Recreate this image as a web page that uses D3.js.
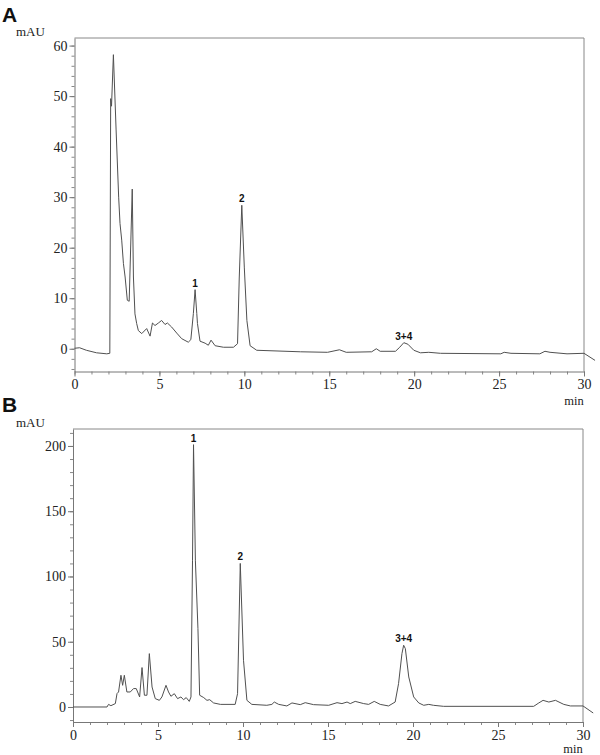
<!DOCTYPE html>
<html>
<head>
<meta charset="utf-8">
<script src="https://cdn.jsdelivr.net/npm/d3@7"></script>
<style>
  body { margin: 0; background: #fff; }
  svg { display: block; }
  .serif { font-family: "Liberation Serif", "DejaVu Serif", serif; }
  .sans { font-family: "Liberation Sans", Arial, sans-serif; }
</style>
</head>
<body>
<div id="chart"></div>
<script>
// Panel A chromatogram (min, mAU)
const timeA = [0, 0.3, 0.7, 1.3, 1.9, 2.08, 2.13, 2.18, 2.29, 2.45, 2.6, 2.68, 2.78, 2.88, 2.98, 3.11, 3.22, 3.4, 3.47, 3.56,
  3.66, 3.76, 3.96, 4.25, 4.45, 4.59, 4.74, 4.94, 5.13, 5.33, 5.47, 5.72, 6.02, 6.31, 6.7, 6.85, 7.0, 7.1, 7.2, 7.24,
  7.39, 7.69, 7.88, 8.04, 8.28, 8.77, 9.36, 9.6, 9.7, 9.85, 10.0, 10.15, 10.34, 10.73, 13.3, 14.9, 15.6, 16.0, 17.5, 17.77,
  18.0, 18.9, 19.15, 19.39, 19.63, 19.98, 20.37, 20.86, 21.55, 25.1, 25.3, 25.7, 27.4, 27.7, 28.0, 29.0, 30.0, 30.65];
const valueA = [0.1, 0.2, -0.3, -0.8, -1.0, -0.9, 49.5, 48.0, 58.2, 43.3, 30.0, 24.8, 21.5, 16.9, 14.2, 9.6, 9.4, 31.6, 14.2, 6.9,
  5.0, 3.6, 3.0, 4.0, 2.5, 5.1, 4.6, 5.1, 5.6, 4.8, 5.1, 4.3, 3.1, 2.0, 1.3, 1.8, 7.0, 11.7, 7.0, 5.0,
  1.5, 1.1, 0.7, 1.7, 0.6, 0.3, 0.3, 1.0, 14.0, 28.4, 16.0, 5.6, 0.6, -0.3, -0.6, -0.7, -0.2, -0.7, -0.6, 0.0,
  -0.5, -0.5, 0.3, 1.2, 0.9, -0.3, -0.8, -0.7, -0.9, -1.0, -0.7, -0.9, -1.0, -0.5, -0.7, -1.0, -0.9, -2.3];

// Panel B chromatogram (min, mAU)
const timeB = [0, 2.0, 2.09, 2.23, 2.49, 2.59, 2.68, 2.82, 2.92, 3.02, 3.17, 3.37, 3.56, 3.72, 3.92, 4.06, 4.2, 4.35, 4.49, 4.65,
  4.84, 5.08, 5.23, 5.47, 5.62, 5.76, 5.96, 6.15, 6.35, 6.5, 6.66, 6.84, 6.94, 7.03, 7.09, 7.2, 7.35, 7.45, 7.69, 7.88,
  8.04, 8.27, 8.67, 9.54, 9.68, 9.84, 10.03, 10.23, 10.52, 11.4, 11.7, 11.84, 12.1, 12.58, 12.88, 13.37, 13.66, 14.15, 15.04, 15.53,
  15.82, 16.12, 16.31, 16.6, 17.1, 17.39, 17.72, 18.07, 18.56, 18.95, 19.15, 19.35, 19.45, 19.55, 19.75, 20.04, 20.34, 20.63, 20.93, 21.2,
  21.8, 27.1, 27.4, 27.65, 27.99, 28.38, 28.87, 29.26, 30.0, 30.6];
const valueB = [0, 0, 2, 1, 2.6, 10.3, 11.5, 24.3, 16.6, 24.3, 11.5, 11.5, 14.1, 14.1, 7.7, 30.2, 9.0, 9.0, 40.9, 15.3,
  6.4, 5.1, 7.7, 16.6, 11.5, 8.2, 10.2, 6.4, 7.7, 5.6, 7.2, 4.3, 7.7, 112, 201, 112, 60, 9, 7.2, 5.1,
  5.6, 3.1, 2.0, 2.0, 10.2, 110, 35.8, 5.1, 2.0, 1.3, 2.0, 3.8, 2.0, 0.8, 3.1, 1.8, 3.3, 1.8, 1.3, 3.3,
  2.6, 3.8, 2.6, 4.3, 2.6, 2.0, 4.3, 2.0, 0.8, 3.8, 17.9, 40.9, 47.3, 44.7, 23, 7.7, 3.1, 1.3, 2.0, 1.3,
  0.5, 0.5, 3.1, 5.1, 3.8, 5.1, 2.0, 0.8, 0.8, -4.6];

// peak labels
const peakNames = ["1", "2", "3+4"];
const peakTimeA = [7.1, 9.85, 19.39];
const peakValueA = [11.7, 28.4, 1.2];
const peakTimeB = [7.09, 9.84, 19.45];
const peakValueB = [201, 110, 47.3];

const xMajor = [0, 5, 10, 15, 20, 25, 30];
const yMajorA = [0, 10, 20, 30, 40, 50, 60];
const yMajorB = [0, 50, 100, 150, 200];

const W = 600, H = 755;
const svg = d3.select("#chart").append("svg").attr("width", W).attr("height", H);

const ink = "#505050";

function drawPanel(p) {
  const x = d3.scaleLinear().domain([0, 30]).range([p.left, p.right]);
  const y = d3.scaleLinear().domain(p.yDomain).range([p.bottom, p.top]);
  const g = svg.append("g");

  // panel letter + unit
  g.append("text").attr("class", "sans").attr("x", 2).attr("y", p.letterY)
    .style("font-weight", "bold").style("font-size", "21px")
    .attr("fill", "#111").text(p.letter);
  g.append("text").attr("class", "serif").attr("x", 16).attr("y", p.unitY)
    .style("font-size", "13px").attr("fill", "#222").text("mAU");

  // frame top + right
  g.append("path")
    .attr("d", `M${p.left},${p.top}H${p.right}V${p.bottom}`)
    .attr("fill", "none").attr("stroke", "#888").attr("stroke-width", 1);

  // y axis
  g.append("g").attr("transform", `translate(${p.left},0)`)
    .call(d3.axisLeft(y).tickValues(p.yMinor).tickSize(3).tickFormat(""))
    .call((a) => a.select(".domain").remove())
    .call((a) => a.selectAll("line").attr("stroke", "#888"));
  g.append("g").attr("transform", `translate(${p.left},0)`)
    .call(d3.axisLeft(y).tickValues(p.yMajor).tickSize(5).tickSizeOuter(0).tickPadding(2))
    .call((a) => a.attr("font-family", null).attr("font-size", null))
    .call((a) => a.select(".domain").attr("stroke", "#777"))
    .call((a) => a.selectAll("line").attr("stroke", "#777"))
    .call((a) => a.selectAll("text").attr("class", "serif").style("font-size", "14px").attr("fill", "#222"));

  // x axis
  g.append("g").attr("transform", `translate(0,${p.bottom})`)
    .call(d3.axisBottom(x).tickValues(d3.range(0, 31, 1)).tickSize(3).tickFormat(""))
    .call((a) => a.select(".domain").remove())
    .call((a) => a.selectAll("line").attr("stroke", "#888"));
  g.append("g").attr("transform", `translate(0,${p.bottom})`)
    .call(d3.axisBottom(x).tickValues(xMajor).tickSize(5).tickSizeOuter(0).tickPadding(3))
    .call((a) => a.attr("font-family", null).attr("font-size", null))
    .call((a) => a.select(".domain").attr("stroke", "#777"))
    .call((a) => a.selectAll("line").attr("stroke", "#777"))
    .call((a) => a.selectAll("text").attr("class", "serif").style("font-size", "14px").attr("fill", "#222"));

  g.append("text").attr("class", "serif").attr("x", p.right - 10).attr("y", p.minY)
    .attr("text-anchor", "middle")
    .style("font-size", "12.5px").attr("fill", "#222").text("min");

  // trace
  const pts = p.times.map((t, i) => [t, p.values[i]]);
  g.append("path").datum(pts)
    .attr("d", d3.line().x((d) => x(d[0])).y((d) => y(d[1])))
    .attr("fill", "none").attr("stroke", ink).attr("stroke-width", 1)
    .attr("stroke-linejoin", "round");

  // peak labels
  g.selectAll(".peak")
    .data(peakNames.map((n, i) => ({ n, t: p.peakT[i], v: p.peakV[i] })))
    .join("text")
    .attr("class", "peak sans")
    .attr("x", (d) => x(d.t))
    .attr("y", (d) => y(d.v) - 3)
    .attr("text-anchor", "middle")
    .style("font-weight", "bold").style("font-size", "10px")
    .attr("fill", "#111")
    .text((d) => d.n);
}

drawPanel({
  letter: "A", letterY: 22, unitY: 36, minY: 405,
  left: 74.5, right: 584, top: 38, bottom: 371.5,
  yDomain: [-4.5, 61.5], yMajor: yMajorA, yMinor: d3.range(-4, 61, 2),
  times: timeA, values: valueA, peakT: peakTimeA, peakV: peakValueA
});

drawPanel({
  letter: "B", letterY: 412, unitY: 427, minY: 753,
  left: 73, right: 583, top: 429, bottom: 722,
  yDomain: [-11.5, 213], yMajor: yMajorB, yMinor: d3.range(-10, 211, 10),
  times: timeB, values: valueB, peakT: peakTimeB, peakV: peakValueB
});
</script>
</body>
</html>
